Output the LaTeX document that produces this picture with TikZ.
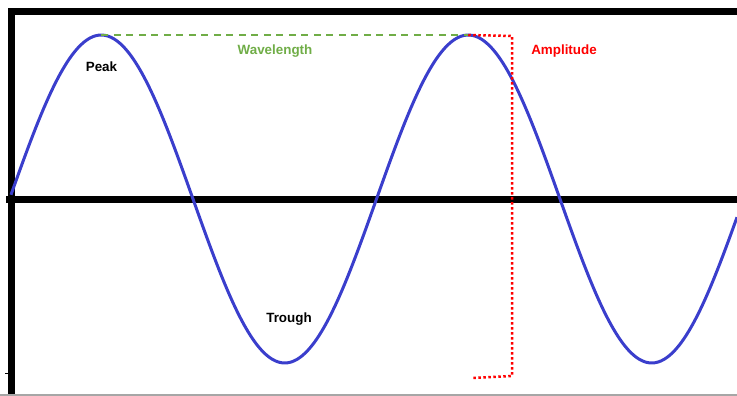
\documentclass[tikz,border=0pt]{standalone}
\usepackage{fontspec}
\setmainfont{Liberation Sans}
\definecolor{waveblue}{RGB}{58,62,204}
\definecolor{wavegreen}{RGB}{112,173,71}
\definecolor{ampred}{RGB}{255,0,0}
\begin{document}
\begin{tikzpicture}[x=1pt, y=-1pt, line join=round]
\tikzstyle{bar} = [draw,line width=7pt,black,line join=miter]
\tikzstyle{wave} = [draw,line width=3pt,waveblue]
\tikzstyle{lbl} = [font=\fontsize{13.4}{16}\selectfont\bfseries,inner sep=0pt]
  \useasboundingbox (0,0) rectangle (737,396);
  % frame and axis
  \coordinate (top) at (737,11.5);
  \coordinate (corner) at (11,11.5);
  \coordinate (foot) at (11,396);
  \coordinate (axisL) at (6,199);
  \coordinate (axisR) at (737,199);
  \draw[bar] (foot) -- (corner) -- (top);
  \draw[bar] (axisL) -- (axisR);
  \draw[line width=1pt] (5,373) -- (9,373);
  \draw[gray!70,line width=1.5pt] (0,395.2) -- (737,395.2);
  % the wave
  \draw[wave] plot[domain=11:737,samples=240,smooth] (\x,{199-164*sin(0.980926*(\x-9.5))});
  \coordinate (peak1) at (101.25,35);
  \coordinate (peak2) at (468.25,35);
  \coordinate (ampTop) at (512,36);
  \coordinate (ampBot) at (512,376);
  \coordinate (ampEnd) at (471,378);
  \draw[wavegreen,line width=2pt,dash pattern=on 7pt off 5.5pt] (peak1) -- (peak2);
  \draw[ampred,line width=2.5pt,dash pattern=on 2.5pt off 2.5pt,line join=miter] (peak2) -- (ampTop) -- (ampBot) -- (ampEnd);
  % labels
  \node[lbl] (peak) at (101.5,67) {Peak};
  \node[lbl,text=wavegreen] (wavelength) at (275,51) {Wavelength};
  \node[lbl,text=ampred] (amplitude) at (564,51) {Amplitude};
  \node[lbl] (trough) at (289,319) {Trough};
\end{tikzpicture}
\end{document}
